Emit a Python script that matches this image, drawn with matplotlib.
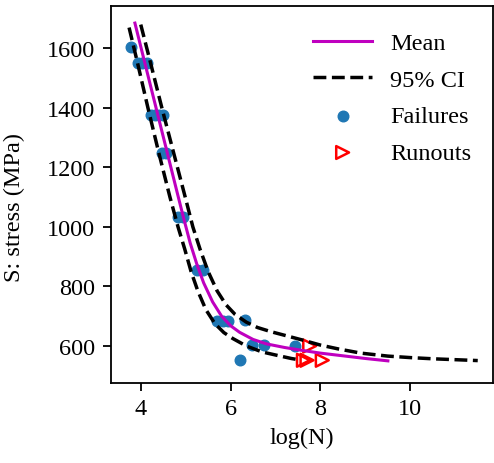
import matplotlib
matplotlib.use("Agg")
import matplotlib.pyplot as plt

plt.rcParams['font.family'] = ['Liberation Serif', 'DejaVu Serif']
plt.rcParams['font.size'] = 17.5

# mean S-N curve (log N, stress)
mean_x = [3.87, 4.0, 4.2, 4.4, 4.6, 4.8, 4.95, 5.1, 5.25, 5.4, 5.6, 5.8, 6.0,
          6.2, 6.5, 6.8, 7.2, 7.6, 8.0, 8.5, 9.0, 9.5]
mean_s = [1685, 1606, 1485, 1364, 1243, 1122, 1032, 946, 874, 812, 748, 700,
          668, 646, 622, 607, 595, 585, 576, 567, 558, 550]

# 95% confidence bounds
lower_x = [3.74, 3.93, 4.16, 4.40, 4.65, 4.83, 4.98, 5.12, 5.27, 5.45, 5.65,
           5.85, 6.05, 6.35, 6.70, 7.05, 7.35, 7.55]
lower_s = [1670, 1550, 1400, 1250, 1100, 1000, 925, 850, 785, 722, 675,
           645, 625, 600, 580, 568, 558, 553]

upper_x = [4.00, 4.22, 4.47, 4.73, 4.99, 5.16, 5.32, 5.50, 5.70, 5.90, 6.10,
           6.35, 6.60, 6.90, 7.20, 7.60, 8.00, 8.40, 8.90, 9.50, 10.0, 10.5,
           11.0, 11.5]
upper_s = [1680, 1550, 1400, 1250, 1100, 1000, 925, 850, 785, 738, 706,
           680, 662, 648, 636, 620, 603, 590, 576, 566, 561, 557, 554, 551]

# test data
fail_x = [3.79, 3.93, 4.02, 4.13, 4.22, 4.31, 4.40, 4.50, 4.47, 4.56, 4.83,
          4.95, 5.25, 5.38, 5.70, 5.82, 5.95, 6.32, 6.47, 6.74, 6.20, 7.43]
fail_s = [1605, 1550, 1550, 1550, 1375, 1375, 1375, 1375, 1250, 1250, 1033,
          1033, 855, 855, 685, 685, 685, 687, 602, 602, 552, 600]

runout_x = [7.76, 7.62, 7.70, 8.04]
runout_s = [600, 552, 552, 552]

fig = plt.figure(figsize=(4.94, 4.64), dpi=100)
ax = fig.add_axes([0.224, 0.172, 0.774, 0.812])

ax.plot(mean_x, mean_s, color='m', lw=2.2, label='Mean', zorder=3)
ax.plot(lower_x, lower_s, color='k', ls='--', lw=2.5, label='95% CI', zorder=3)
ax.plot(upper_x, upper_s, color='k', ls='--', lw=2.5, zorder=3)
ax.scatter(fail_x, fail_s, s=58, color='#1f77b4', label='Failures', zorder=2)
ax.scatter(runout_x, runout_s, s=85, marker='>', facecolors='none',
           edgecolors='r', linewidths=1.8, label='Runouts', zorder=2)

ax.set_xlim(3.33, 11.84)
ax.set_ylim(475, 1741)
ax.set_xticks([4, 6, 8, 10])
ax.set_yticks([600, 800, 1000, 1200, 1400, 1600])
ax.set_xlabel('log(N)', labelpad=5)
ax.set_ylabel('S: stress (MPa)')
ax.yaxis.set_label_coords(-0.225, 0.47)

for sp in ax.spines.values():
    sp.set_linewidth(1.3)
ax.tick_params(width=1.3, length=6, pad=5)

ax.legend(loc='upper right', frameon=False, handlelength=2.4,
          handletextpad=0.75, labelspacing=0.6,
          bbox_to_anchor=(1.0, 0.99))

fig.savefig('out.png', dpi=100)
